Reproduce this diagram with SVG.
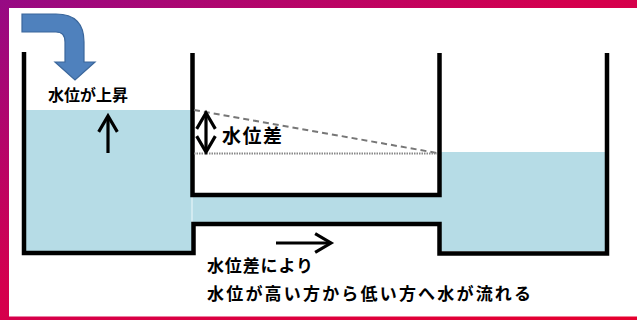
<svg xmlns="http://www.w3.org/2000/svg" width="637" height="320" viewBox="0 0 637 320">
  <defs>
    <linearGradient id="frame" x1="0" y1="0" x2="1" y2="1">
      <stop offset="0" stop-color="#960a84"/>
      <stop offset="0.45" stop-color="#d4004e"/>
      <stop offset="1" stop-color="#e6002e"/>
    </linearGradient>
    <marker id="head" viewBox="0 0 12 12" refX="10" refY="6" markerWidth="7" markerHeight="7" orient="auto-start-reverse" markerUnits="strokeWidth">
      <path d="M1.5,1 L10,6 L1.5,11" fill="none" stroke="#000" stroke-width="1.7" stroke-linejoin="miter"/>
    </marker>
  </defs>
  <style>
    .water { fill: #b6dce6; }
    .wall { fill: none; stroke: #000; stroke-width: 4.5; stroke-linejoin: miter; stroke-linecap: butt; }
    .arrow { fill: none; stroke: #000; stroke-width: 3.2; }
    .label { font-family: "Noto Sans CJK JP", "Noto Sans", sans-serif; font-weight: bold; fill: #000; }
  </style>

  <!-- frame -->
  <rect x="0" y="0" width="637" height="320" fill="url(#frame)"/>
  <rect x="9" y="8" width="628" height="308.5" fill="#fff"/>

  <!-- water -->
  <g id="water">
    <rect class="water" x="26" y="110" width="166" height="141"/>
    <rect class="water" x="192" y="197" width="250" height="25"/>
    <rect class="water" x="440" y="152" width="165" height="99"/>
    <line x1="192" y1="197" x2="192" y2="222" stroke="#eef8fb" stroke-width="1"/>
  </g>

  <!-- tanks -->
  <g id="tank-left-right">
    <path class="wall" d="M24,52 V253 H193.5 V224 H439.5 V253.5 H607 V53"/>
  </g>
  <g id="tank-middle">
    <path class="wall" d="M192.5,53 V195 H439.5 V53"/>
  </g>

  <!-- inflow arrow -->
  <g id="inflow">
    <path d="M22,14 H56 Q84,14 84,42 V62 H95 L75,80 L55,62 H65 V42 Q65,32 56,32 H22 Z" fill="#4f81bd" stroke="#3b679c" stroke-width="1.2"/>
  </g>

  <!-- level guides -->
  <g id="guides">
    <line x1="194" y1="110" x2="437" y2="153" stroke="#777" stroke-width="2" stroke-dasharray="6 4"/>
    <line x1="194" y1="153.5" x2="437" y2="153.5" stroke="#888" stroke-width="2" stroke-dasharray="1.5 1"/>
  </g>

  <!-- connectors -->
  <g id="connectors">
    <line class="arrow" x1="108" y1="153" x2="108" y2="116" marker-end="url(#head)"/>
    <line class="arrow" x1="206" y1="113" x2="206" y2="152" marker-start="url(#head)" marker-end="url(#head)" stroke-width="3.4"/>
    <line class="arrow" x1="276" y1="243" x2="331" y2="243" marker-end="url(#head)"/>
  </g>

  <!-- labels -->
  <g id="labels">
    <text class="label" x="48" y="101" font-size="16" textLength="80" lengthAdjust="spacing">水位が上昇</text>
    <text class="label" x="222" y="143" font-size="19" textLength="60" lengthAdjust="spacing">水位差</text>
    <text class="label" x="207" y="272" font-size="17" textLength="106" lengthAdjust="spacing">水位差により</text>
    <text class="label" x="207" y="300" font-size="17" textLength="324" lengthAdjust="spacing">水位が高い方から低い方へ水が流れる</text>
  </g>
</svg>
